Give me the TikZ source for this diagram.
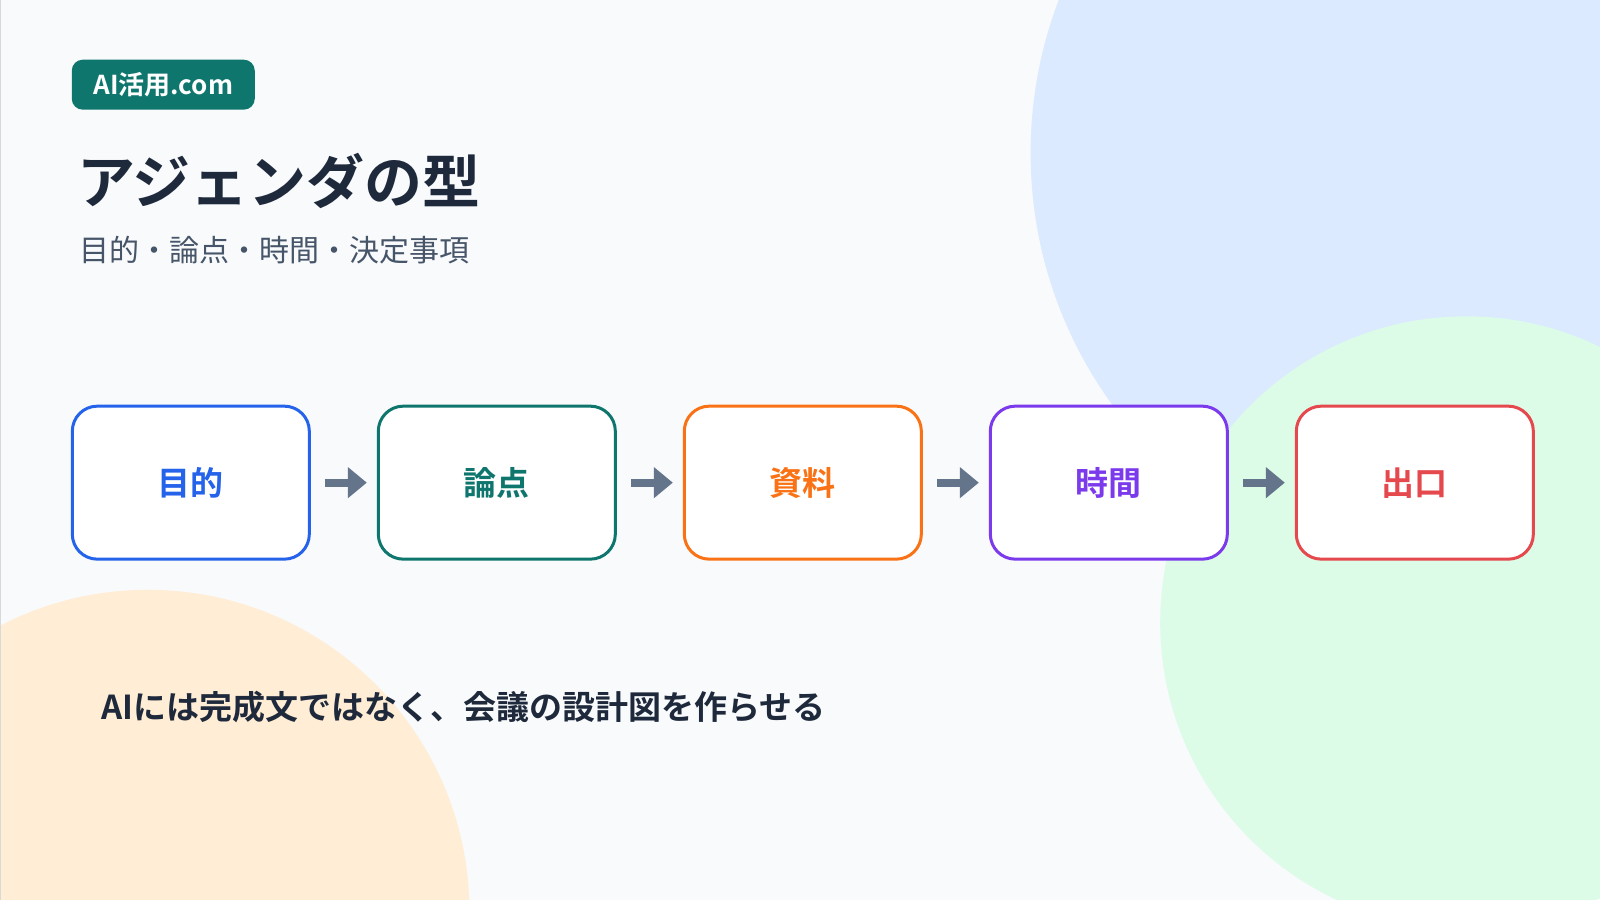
\documentclass[tikz,border=0pt]{standalone}
\usepackage{fontspec}
\setmainfont{Noto Sans CJK JP}
\newfontfamily\jpbold{Noto Sans CJK JP Bold}
\usetikzlibrary{positioning,arrows.meta}
\definecolor{bgc}{HTML}{F8FAFC}
\definecolor{inkc}{HTML}{1E293B}
\definecolor{subc}{HTML}{475569}
\definecolor{arrc}{HTML}{64748B}
\definecolor{tealc}{HTML}{0F766E}
\definecolor{bluec}{HTML}{2563EB}
\definecolor{orangec}{HTML}{F97316}
\definecolor{purplec}{HTML}{7C3AED}
\definecolor{redc}{HTML}{E5484D}
\definecolor{blobblue}{HTML}{DBEAFE}
\definecolor{blobgreen}{HTML}{DCFCE7}
\definecolor{bloborange}{HTML}{FFEDD5}
\tikzset{
  step/.style={rectangle, draw=#1, line width=3pt, fill=white, rounded corners=25pt,
    minimum width=237pt, minimum height=153pt, text=#1,
    font=\jpbold\fontsize{33}{38}\selectfont},
  flow/.style={draw=arrc, line width=8pt, -{Triangle[length=19pt,width=30pt]}, shorten <=14pt, shorten >=10pt}
}
\begin{document}
\begin{tikzpicture}[x=1.0204pt, y=-1.0204pt]
    % Background
    \useasboundingbox (0,0) rectangle (1568,882);
    \fill[bgc] (0,0) rectangle (1568,882);
    \begin{scope}
      \clip (0,0) rectangle (1568,882);
      \fill[blobblue] (1430,150) circle (420);
      \fill[blobgreen] (1437,610) circle (300);
      \fill[bloborange] (145,893) circle (315);
    \end{scope}
    \draw[gray!30, line width=1pt] (0,0) rectangle (1568,882);

    % Header
    \node[fill=tealc, rounded corners=11pt, minimum width=183pt, minimum height=50pt,
      text=white, font=\jpbold\fontsize{26}{30}\selectfont] (badge) at (160,83) {AI活用.com};
    \node[anchor=west, text=inkc, font=\jpbold\fontsize{58}{64}\selectfont] (title) at (72,177) {アジェンダの型};
    \node[anchor=west, text=subc, font=\fontsize{30}{36}\selectfont] (subtitle) at (74,245) {目的・論点・時間・決定事項};

    % Steps
    \node[step=bluec] (goal) at (187,473) {目的};
    \node[step=tealc, right=66pt of goal] (issue) {論点};
    \node[step=orangec, right=66pt of issue] (docs) {資料};
    \node[step=purplec, right=66pt of docs] (time) {時間};
    \node[step=redc, right=66pt of time] (exit) {出口};

    % Arrows
    \foreach \a/\b in {goal/issue, issue/docs, docs/time, time/exit}
      \draw[flow] (\a) -- (\b);

    % Footer
    \node[anchor=west, text=inkc, font=\jpbold\fontsize{33}{38}\selectfont] (note) at (96,693) {AIには完成文ではなく、会議の設計図を作らせる};
\end{tikzpicture}
\end{document}
